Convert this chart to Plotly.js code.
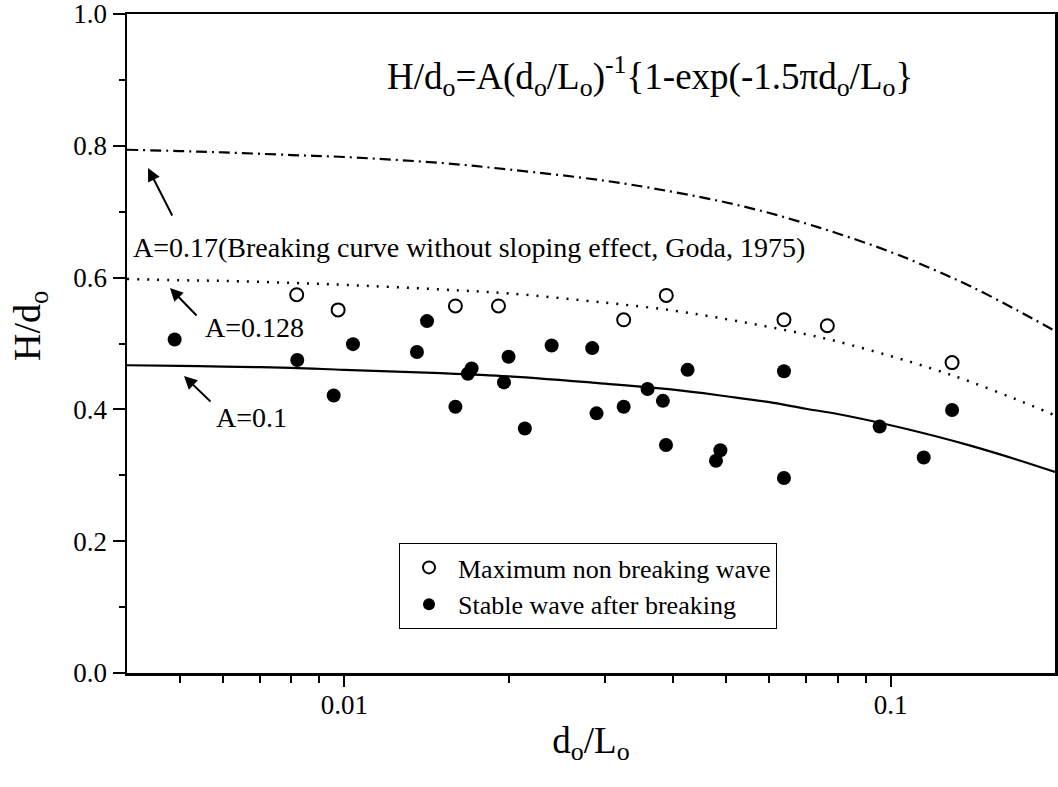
<!DOCTYPE html>
<html>
<head>
<meta charset="utf-8">
<script src="https://cdn.plot.ly/plotly-3.0.1.min.js"></script>
<style>html,body{margin:0;padding:0;background:#fff;}#chart{width:1058px;height:787px;}</style>
</head>
<body>
<div id="chart"></div>
<script>
// Curves (H/do vs do/Lo)
const curveX = [0.004, 0.005, 0.006, 0.008, 0.01, 0.015, 0.02, 0.03, 0.04, 0.05, 0.06, 0.07, 0.08, 0.1, 0.12, 0.14, 0.17, 0.2];
const curveA010 = [0.467, 0.466, 0.465, 0.463, 0.460, 0.455, 0.450, 0.439, 0.430, 0.420, 0.411, 0.401, 0.393, 0.376, 0.360, 0.345, 0.324, 0.305];
const curveA0128 = [0.598, 0.596, 0.595, 0.592, 0.589, 0.582, 0.576, 0.562, 0.550, 0.537, 0.525, 0.514, 0.503, 0.481, 0.461, 0.442, 0.415, 0.391];
const curveA017 = [0.794, 0.792, 0.790, 0.786, 0.783, 0.774, 0.764, 0.747, 0.730, 0.714, 0.698, 0.682, 0.667, 0.639, 0.612, 0.587, 0.551, 0.519];

// Maximum non breaking wave (open circles)
const openX = [0.00818, 0.00974, 0.01597, 0.01915, 0.03246, 0.03885, 0.0638, 0.0766, 0.1296];
const openY = [0.574, 0.551, 0.557, 0.557, 0.536, 0.573, 0.536, 0.527, 0.471];

// Stable wave after breaking (filled circles)
const filledX = [0.00489, 0.00820, 0.01037, 0.00956, 0.01417, 0.01358, 0.0171, 0.01683, 0.01998, 0.0196, 0.02396, 0.02843, 0.01597, 0.0214, 0.02895, 0.0359, 0.0383, 0.03246, 0.0425, 0.0638, 0.0388, 0.0488, 0.0479, 0.0638, 0.1296, 0.0955, 0.115];
const filledY = [0.506, 0.475, 0.499, 0.421, 0.534, 0.487, 0.462, 0.454, 0.480, 0.441, 0.497, 0.493, 0.404, 0.371, 0.394, 0.431, 0.413, 0.404, 0.460, 0.458, 0.346, 0.338, 0.322, 0.296, 0.399, 0.374, 0.327];

const xMajorTicks = [0.01, 0.1];
const xMajorLabels = ['0.01', '0.1'];
const xMinorTicks = [0.005, 0.006, 0.007, 0.008, 0.009, 0.02, 0.03, 0.04, 0.05, 0.06, 0.07, 0.08, 0.09];

const FONT = '"Liberation Serif", "Times New Roman", serif';

const traces = [
  {x: curveX, y: curveA017, mode: 'lines', line: {color: '#000', width: 2.2, dash: '11px,5px,2px,5px', shape: 'spline'}, showlegend: false, hoverinfo: 'skip'},
  {x: curveX, y: curveA0128, mode: 'lines', line: {color: '#000', width: 2.5, dash: '2px,8px', shape: 'spline'}, showlegend: false, hoverinfo: 'skip'},
  {x: curveX, y: curveA010, mode: 'lines', line: {color: '#000', width: 2.2, shape: 'spline'}, showlegend: false, hoverinfo: 'skip'},
  {x: openX, y: openY, mode: 'markers', name: 'Maximum non breaking wave',
   marker: {symbol: 'circle-open', size: 13, color: '#000', line: {width: 2, color: '#000'}}},
  {x: filledX, y: filledY, mode: 'markers', name: 'Stable wave after breaking',
   marker: {symbol: 'circle', size: 14, color: '#000'}}
];

function px(x) { return (x - 127) / 928; }
function py(y) { return (673 - y) / 659; }

const annFont = {family: FONT, size: 28, color: '#000'};
const layout = {
  width: 1058, height: 787,
  margin: {l: 127, r: 3, t: 14, b: 114},
  paper_bgcolor: '#fff', plot_bgcolor: '#fff',
  font: {family: FONT, color: '#000', size: 26},
  showlegend: true,
  legend: {x: px(399), y: py(543), xanchor: 'left', yanchor: 'top', bordercolor: '#000', borderwidth: 1,
           bgcolor: '#fff', font: {family: FONT, size: 26, color: '#000'}, itemsizing: 'constant',
           itemwidth: 48, tracegroupgap: 0},
  xaxis: {
    type: 'log', range: [Math.log10(0.004), Math.log10(0.2)],
    tickmode: 'array', tickvals: xMajorTicks, ticktext: xMajorLabels,
    ticks: 'outside', ticklen: 11, tickwidth: 2, tickcolor: '#000', ticklabelstandoff: -5,
    ticklabeloverflow: 'allow',
    minor: {tickmode: 'array', tickvals: xMinorTicks, ticks: 'outside', ticklen: 7, tickwidth: 2, tickcolor: '#000', showgrid: false},
    showline: true, linewidth: 2.5, linecolor: '#000', mirror: true,
    showgrid: false, zeroline: false,
    tickfont: {family: FONT, size: 27, color: '#000'},
    title: {text: 'd<sub>o</sub>/L<sub>o</sub>', font: {family: FONT, size: 37, color: '#000'}, standoff: 8}
  },
  yaxis: {
    range: [0, 1], tickmode: 'linear', tick0: 0, dtick: 0.2, tickformat: '.1f',
    ticks: 'outside', ticklen: 12, tickwidth: 2, tickcolor: '#000',
    ticklabeloverflow: 'allow',
    minor: {dtick: 0.1, ticks: 'outside', ticklen: 6, tickwidth: 2, tickcolor: '#000', showgrid: false},
    showline: true, linewidth: 2.5, linecolor: '#000', mirror: true,
    showgrid: false, zeroline: false,
    tickfont: {family: FONT, size: 27, color: '#000'}
  },
  annotations: [
    {xref: 'paper', yref: 'paper', x: px(30), y: py(326), xanchor: 'center', yanchor: 'middle', showarrow: false,
     textangle: -90, text: 'H/d<sub>o</sub>', font: {family: FONT, size: 38, color: '#000'}},
    {xref: 'paper', yref: 'paper', x: px(650), y: py(76), xanchor: 'center', yanchor: 'middle', showarrow: false,
     text: 'H/d<sub>o</sub>=A(d<sub>o</sub>/L<sub>o</sub>)<sup>-1</sup>{1-exp(-1.5πd<sub>o</sub>/L<sub>o</sub>}',
     font: {family: FONT, size: 37, color: '#000'}},
    {xref: 'paper', yref: 'paper', x: px(131), y: py(247), xanchor: 'left', yanchor: 'middle', showarrow: false,
     text: 'A=0.17(Breaking curve without sloping effect, Goda, 1975)', font: annFont},
    {xref: 'paper', yref: 'paper', x: px(203), y: py(327), xanchor: 'left', yanchor: 'middle', showarrow: false,
     text: 'A=0.128', font: annFont},
    {xref: 'paper', yref: 'paper', x: px(214), y: py(417), xanchor: 'left', yanchor: 'middle', showarrow: false,
     text: 'A=0.1', font: annFont},
    {xref: 'paper', yref: 'paper', x: px(148), y: py(168), text: '', showarrow: true, ax: 25, ay: 49,
     arrowhead: 2, arrowsize: 1.3, arrowwidth: 2, arrowcolor: '#000', standoff: 0},
    {xref: 'paper', yref: 'paper', x: px(170), y: py(288), text: '', showarrow: true, ax: 28, ay: 29,
     arrowhead: 2, arrowsize: 1.3, arrowwidth: 2, arrowcolor: '#000', standoff: 0},
    {xref: 'paper', yref: 'paper', x: px(184), y: py(376), text: '', showarrow: true, ax: 28, ay: 27,
     arrowhead: 2, arrowsize: 1.3, arrowwidth: 2, arrowcolor: '#000', standoff: 0}
  ]
};

Plotly.newPlot('chart', traces, layout, {staticPlot: true, displayModeBar: false});
</script>
</body>
</html>
